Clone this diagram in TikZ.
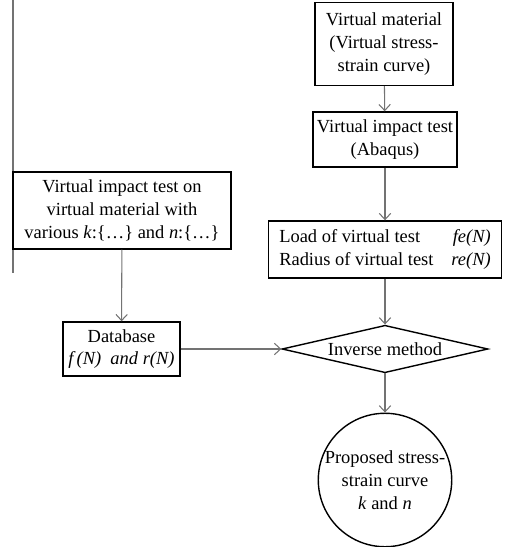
\documentclass[tikz,border=0pt]{standalone}
\usepackage{fontspec}
\setmainfont{Liberation Serif}
\usetikzlibrary{shapes.geometric, arrows.meta, positioning}

\begin{document}
\begin{tikzpicture}[x=0.02cm, y=-0.02cm,
    box/.style={draw, line width=0.8pt, align=center, inner sep=0pt, font=\fontsize{10.5}{13}\selectfont},
    flow/.style={draw=black!55, line width=0.6pt, -{Straight Barb[length=3.5pt,width=6.5pt]}}]
    \useasboundingbox (0,0) rectangle (506,547);
    \draw[black!55, line width=0.8pt] (13,0) -- (13,273);

    % right column
    \node[box, minimum width=2.76cm, minimum height=1.66cm] (material) at (384,44) {Virtual material\\(Virtual stress-\\strain curve)};
    \node[box, minimum width=2.88cm, minimum height=1.1cm] (abaqus) at (385,139.5) {Virtual impact test\\(Abaqus)};
    \node[box, minimum width=4.66cm, minimum height=1.14cm] (load) at (385,249.5) {\begin{tabular}{@{}l@{\hspace{0.36cm}}r@{}}
        Load of virtual test & \textit{fe(N)}\\
        Radius of virtual test & \textit{re(N)}
    \end{tabular}};
    \node[box, diamond, aspect=4.4, minimum width=4.12cm, minimum height=0.95cm] (inverse) at (385,349) {Inverse method};
    \node[box, circle, minimum size=2.64cm] (curve) at (385,480) {Proposed stress-\\strain curve\\\textit{k} and \textit{n}};

    % left column
    \node[box, minimum width=4.36cm, minimum height=1.54cm] (various) at (122,210.5) {Virtual impact test on\\virtual material with\\various \textit{k}:\{\ldots\} and \textit{n}:\{\ldots\}};
    \node[box, minimum width=2.34cm, minimum height=1.08cm] (database) at (121.5,349) {Database\\\textit{f\,(N)\ \ and r(N)}};

    \draw[flow] (material) -- (abaqus);
    \draw[flow] (abaqus) -- (load);
    \draw[flow] (load) -- (inverse);
    \draw[flow] (various) -- (database);
    \draw[flow] (database) -- (inverse);
    \draw[flow] (inverse) -- (curve);
\end{tikzpicture}
\end{document}
